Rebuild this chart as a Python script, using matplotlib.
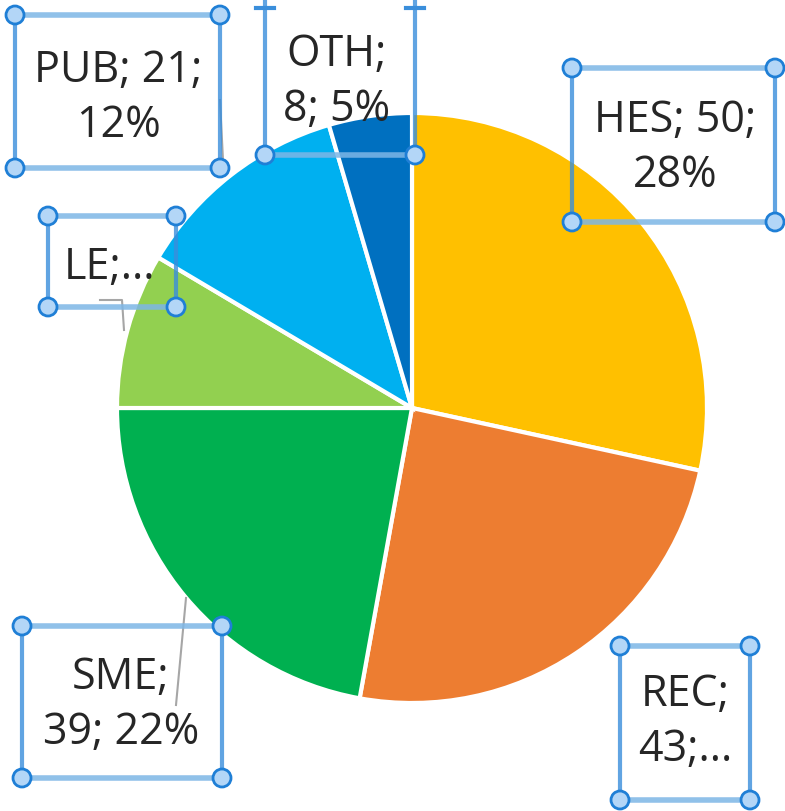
import matplotlib.pyplot as plt
from matplotlib.patches import Circle

categories = ['HES', 'REC', 'SME', 'LE', 'PUB', 'OTH']
values = [50, 43, 39, 15, 21, 8]
label_texts = ['HES; 50;\n28%', 'REC;\n43;...', 'SME;\n39; 22%', 'LE;...', 'PUB; 21;\n12%', 'OTH;\n8; 5%']
colors = ['#FFC000', '#ED7D31', '#00B050', '#92D050', '#00B0F0', '#0070C0']

W, H = 785, 811
fig = plt.figure(figsize=(W / 100, H / 100), dpi=100)
ax = fig.add_axes([0, 0, 1, 1])

def Y(y):
    # image pixel row -> data y
    return H - y

ax.pie(values, colors=colors, startangle=90, counterclock=False,
       center=(412, Y(408)), radius=295, frame=True,
       wedgeprops=dict(edgecolor='white', linewidth=3))
ax.set_xlim(0, W)
ax.set_ylim(0, H)
ax.axis('off')

# label boxes in image pixels: x0, y0, x1, y1, text x, text y
boxes = {
    'HES': (572, 68, 775, 222, 675, 148),
    'REC': (620, 646, 750, 800, 685, 722),
    'SME': (22, 626, 222, 778, 121, 705),
    'LE': (48, 216, 176, 307, 110, 268),
    'PUB': (15, 15, 220, 168, 118, 98),
    'OTH': (265, -40, 415, 155, 337, 82),
}

# leader lines
leader = dict(color='#A6A6A6', lw=1.5, zorder=3)
ax.plot([100, 122, 124], [Y(300), Y(300), Y(330)], **leader)
ax.plot([176, 186], [Y(705), Y(598)], **leader)
ax.plot([220, 223], [Y(100), Y(160)], **leader)

hline = '#7DB6E6'
vline = '#3A8EDB'
for cat, txt in zip(categories, label_texts):
    x0, y0, x1, y1, tx, ty = boxes[cat]
    ax.plot([x0, x1], [Y(y0), Y(y0)], color=hline, lw=4, alpha=0.85, zorder=4)
    ax.plot([x0, x1], [Y(y1), Y(y1)], color=hline, lw=4, alpha=0.85, zorder=4)
    ax.plot([x0, x0], [Y(y0), Y(y1)], color=vline, lw=3, alpha=0.8, zorder=4)
    ax.plot([x1, x1], [Y(y0), Y(y1)], color=vline, lw=3, alpha=0.8, zorder=4)
    for cx in (x0, x1):
        for cy in (y0, y1):
            ax.add_patch(Circle((cx, Y(cy)), 9, facecolor='#B3D6F7',
                                edgecolor='#1F7FD6', lw=2, zorder=5))
    ax.text(tx, Y(ty), txt, ha='center', va='center', fontsize=31,
            family='Open Sans', color='#262626', linespacing=1.3, zorder=6)

# caps at top of the OTH box (handles are off the top edge)
for cx in (265, 415):
    ax.plot([cx - 9, cx + 9], [Y(8), Y(8)], color=vline, lw=3, zorder=4)

fig.savefig('out.png', dpi=100)
